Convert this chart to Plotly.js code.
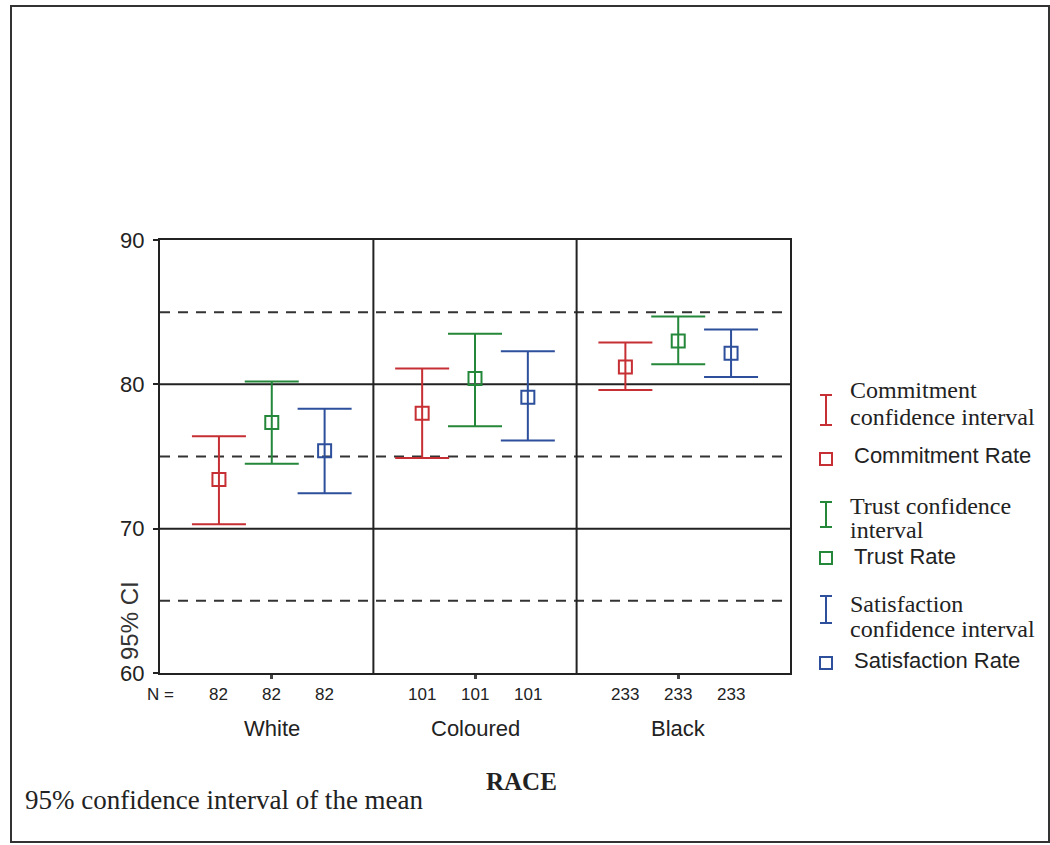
<!DOCTYPE html>
<html>
<head>
<meta charset="utf-8">
<script src="https://cdn.plot.ly/plotly-3.0.1.min.js"></script>
<style>
  html, body { margin: 0; padding: 0; background: #ffffff; }
  #chart { width: 1050px; height: 845px; }
</style>
</head>
<body>
<div id="chart"></div>
<script>
// Groups and sample sizes
const races = ['White', 'Coloured', 'Black'];
const nCounts = [82, 101, 233];

// Commitment rate: mean and 95% CI bounds
const commitMean = [73.4, 78.0, 81.2];
const commitLow  = [70.3, 74.9, 79.6];
const commitHigh = [76.4, 81.1, 82.9];

// Trust rate
const trustMean = [77.35, 80.4, 83.0];
const trustLow  = [74.5, 77.1, 81.4];
const trustHigh = [80.2, 83.5, 84.7];

// Satisfaction rate
const satMean = [75.4, 79.1, 82.15];
const satLow  = [72.45, 76.1, 80.5];
const satHigh = [78.3, 82.3, 83.8];

const seriesNames = ['Commitment', 'Trust', 'Satisfaction'];
const seriesColors = ['#c62f33', '#24873a', '#2d4f9c'];
const offsets = [-0.26, 0, 0.26];

// Plot area in pixels
const W = 1050, H = 845;
const L = 160, R = 790, T = 240, B = 673;
const px = v => (v - L) / (R - L);
const py = v => (B - v) / (B - T);

const SERIF = '"Liberation Serif", "Times New Roman", serif';
const SANS = '"Liberation Sans", Arial, sans-serif';
const INK = '#222222';

const groupX = races.map((_, i) => i + 1);

function ciTrace(k, mean, lo, hi) {
  return {
    type: 'scatter',
    mode: 'markers',
    name: seriesNames[k],
    x: groupX.map(g => g + offsets[k]),
    y: mean,
    marker: { symbol: 'square-open', size: 13, color: seriesColors[k], line: { width: 2, color: seriesColors[k] } },
    error_y: {
      type: 'data', symmetric: false,
      array: hi.map((h, i) => h - mean[i]),
      arrayminus: lo.map((l, i) => mean[i] - l),
      color: seriesColors[k], thickness: 2, width: 27
    },
    showlegend: false,
    hoverinfo: 'y'
  };
}

const data = [
  ciTrace(0, commitMean, commitLow, commitHigh),
  ciTrace(1, trustMean, trustLow, trustHigh),
  ciTrace(2, satMean, satLow, satHigh)
];

const shapes = [];
// reference lines inside the plot
[70, 80].forEach(v => shapes.push({ type: 'line', xref: 'paper', yref: 'y', x0: 0, x1: 1, y0: v, y1: v, line: { color: INK, width: 2 }, layer: 'below' }));
[65, 75, 85].forEach(v => shapes.push({ type: 'line', xref: 'paper', yref: 'y', x0: 0, x1: 1, y0: v, y1: v, line: { color: '#333333', width: 2, dash: '10px,8px' }, layer: 'below' }));
// group separators
[1.5, 2.5].forEach(v => shapes.push({ type: 'line', xref: 'x', yref: 'paper', x0: v, x1: v, y0: 0, y1: 1, line: { color: INK, width: 2 }, layer: 'below' }));
// outer frame
shapes.push({ type: 'rect', xref: 'paper', yref: 'paper', x0: px(11), x1: px(1049), y0: py(6), y1: py(842), line: { color: '#333333', width: 2 } });

// legend key symbols
const legendRows = [
  { barTop: 395, barBot: 425, box: 459 },
  { barTop: 502, barBot: 527, box: 558 },
  { barTop: 596, barBot: 623, box: 663 }
];
const keyX = 826;
legendRows.forEach((r, k) => {
  const c = seriesColors[k];
  const ln = (x0, y0, x1, y1) => shapes.push({ type: 'line', xref: 'paper', yref: 'paper', x0: px(x0), x1: px(x1), y0: py(y0), y1: py(y1), line: { color: c, width: 2 } });
  ln(keyX, r.barTop, keyX, r.barBot);
  ln(keyX - 6, r.barTop, keyX + 6, r.barTop);
  ln(keyX - 6, r.barBot, keyX + 6, r.barBot);
  shapes.push({ type: 'rect', xref: 'paper', yref: 'paper', x0: px(keyX - 6), x1: px(keyX + 6), y0: py(r.box + 6), y1: py(r.box - 6), line: { color: c, width: 2 } });
});

const annotations = [];
function textAt(x, y, text, font, opts) {
  annotations.push(Object.assign({
    xref: 'paper', yref: 'paper', x: px(x), y: py(y), text: text,
    showarrow: false, font: Object.assign({ color: INK }, font),
    xanchor: 'left', yanchor: 'middle'
  }, opts || {}));
}

// sample sizes under each interval
textAt(160, 694, 'N =', { family: SANS, size: 17 }, { xanchor: 'center' });
races.forEach((_, i) => {
  offsets.forEach(o => {
    annotations.push({
      xref: 'x', yref: 'paper', x: groupX[i] + o, y: py(694), text: String(nCounts[i]),
      showarrow: false, font: { family: SANS, size: 17, color: INK }, xanchor: 'center', yanchor: 'middle'
    });
  });
  annotations.push({
    xref: 'x', yref: 'paper', x: groupX[i], y: py(728), text: races[i],
    showarrow: false, font: { family: SANS, size: 22, color: INK }, xanchor: 'center', yanchor: 'middle'
  });
});

// axis titles and note
textAt(521, 781, '<b>RACE</b>', { family: SERIF, size: 25 }, { xanchor: 'center' });
textAt(23, 800, '95% confidence interval of the mean', { family: SERIF, size: 27 });
textAt(129, 621, '95% CI', { family: SANS, size: 24, color: '#333333' }, { xanchor: 'center', textangle: -90 });

// legend text
const lgSerif = { family: SERIF, size: 24 };
const lgSans = { family: SANS, size: 22 };
textAt(848, 390, 'Commitment', lgSerif);
textAt(848, 417, 'confidence interval', lgSerif);
textAt(852, 455, 'Commitment Rate', lgSans);
textAt(848, 506, 'Trust confidence', lgSerif);
textAt(848, 530, 'interval', lgSerif);
textAt(852, 556, 'Trust Rate', lgSans);
textAt(848, 604, 'Satisfaction', lgSerif);
textAt(848, 629, 'confidence interval', lgSerif);
textAt(852, 660, 'Satisfaction Rate', lgSans);

const layout = {
  width: W, height: H,
  margin: { l: L, r: W - R, t: T, b: H - B, pad: 0 },
  paper_bgcolor: '#ffffff',
  plot_bgcolor: '#ffffff',
  showlegend: false,
  xaxis: {
    range: [0.45, 3.55],
    tickvals: groupX,
    showticklabels: false,
    ticks: 'outside', ticklen: 4, tickwidth: 3, tickcolor: '#444444',
    showgrid: false, zeroline: false,
    showline: true, mirror: true, linecolor: INK, linewidth: 2
  },
  yaxis: {
    range: [60, 90],
    tickvals: [60, 70, 80, 90],
    ticks: 'outside', ticklen: 5, tickwidth: 2, tickcolor: INK,
    tickfont: { family: SANS, size: 22, color: INK },
    ticklabelstandoff: 4,
    showgrid: false, zeroline: false,
    showline: true, mirror: true, linecolor: INK, linewidth: 2
  },
  shapes: shapes,
  annotations: annotations
};

Plotly.newPlot('chart', data, layout, { displayModeBar: false, staticPlot: true });
</script>
</body>
</html>
